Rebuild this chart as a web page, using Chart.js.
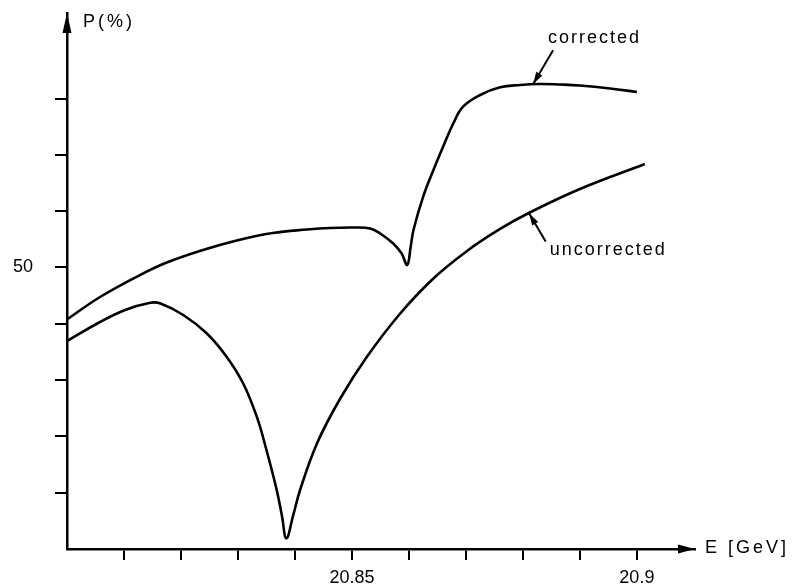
<!DOCTYPE html>
<html><head><meta charset="utf-8">
<script src="https://cdn.jsdelivr.net/npm/chart.js@4/dist/chart.umd.min.js"></script>
<style>html,body{margin:0;padding:0;background:#fff}#wrap{width:793px;height:588px}</style>
</head><body><div id="wrap"><canvas id="c" width="793" height="588"></canvas></div>
<script>
// ---- data ----
const energyCorrected = [20.8000,20.8058,20.8128,20.8175,20.8233,20.8298,20.8361,20.8421,20.8461,20.8505,20.8532,20.8549,20.8572,20.8587,20.8597,20.8603,20.8608,20.8625,20.8643,20.8660,20.8678,20.8695,20.8725,20.8760,20.8795,20.8830,20.8865,20.8900,20.8953,20.9000];
const polCorrected    = [45.38,47.38,49.33,50.44,51.47,52.40,53.06,53.37,53.51,53.55,53.46,53.04,52.15,51.26,50.22,51.82,53.33,56.29,58.66,60.73,62.81,64.28,65.32,66.00,66.21,66.30,66.25,66.16,65.90,65.59];
const energyUncorrected = [20.8000,20.8058,20.8102,20.8146,20.8163,20.8204,20.8245,20.8280,20.8309,20.8333,20.8350,20.8368,20.8377,20.8385,20.8397,20.8409,20.8439,20.8479,20.8526,20.8584,20.8642,20.8702,20.8760,20.8812,20.8900,20.9014];
const polUncorrected    = [43.47,45.16,46.23,46.87,46.82,45.78,44.16,42.08,39.72,36.75,33.79,30.24,28.00,25.95,28.00,30.24,34.41,38.32,42.05,45.87,48.98,51.47,53.42,54.88,56.97,59.19];
const xTickValues = [20.81,20.82,20.83,20.84,20.85,20.86,20.87,20.88,20.89,20.9];
const xTickLabels = ['20.85','20.9'];
const yTickValues = [30,35,40,45,50,55,60,65];
const yTickLabels = ['50'];
const seriesNames = ['corrected','uncorrected'];
const axisTitles = ['P(%)','E [GeV]'];
// annotation anchors in data units: [energy, polarization]
const noteCorrected   = {tip:[20.8818,66.3], tail:[20.8853,69.3], text:[20.8844,69.9]};
const noteUncorrected = {tip:[20.8811,54.8], tail:[20.8840,52.3], text:[20.8847,51.1]};

const FONT = 'Liberation Sans, Arial, sans-serif';

function pairs(xs, ys){ return xs.map((x,i)=>({x:x, y:ys[i]})); }

function arrowHead(ctx, tx, ty, fx, fy, len, half){
  const a = Math.atan2(ty-fy, tx-fx);
  ctx.beginPath();
  ctx.moveTo(tx, ty);
  ctx.lineTo(tx - len*Math.cos(a) + half*Math.sin(a), ty - len*Math.sin(a) - half*Math.cos(a));
  ctx.lineTo(tx - len*Math.cos(a) - half*Math.sin(a), ty - len*Math.sin(a) + half*Math.cos(a));
  ctx.closePath();
  ctx.fill();
}

const decor = {
  id:'decor',
  afterDraw(chart){
    const ctx = chart.ctx, a = chart.chartArea, xs = chart.scales.x, ys = chart.scales.y;
    ctx.save();
    ctx.fillStyle = '#000'; ctx.strokeStyle = '#000';
    // axis arrowheads
    arrowHead(ctx, a.left, a.top, a.left, a.top+30, 20, 4.5);
    arrowHead(ctx, a.right, a.bottom, a.right-30, a.bottom, 17, 4.5);
    // axis titles
    ctx.font = '18px ' + FONT;
    ctx.textBaseline = 'middle';
    ctx.letterSpacing = '3px';
    ctx.fillText(axisTitles[0], a.left + 16, a.top + 9);
    ctx.fillText(axisTitles[1], a.right + 10, a.bottom - 1);
    // curve annotations
    ctx.letterSpacing = '2px';
    ctx.textBaseline = 'alphabetic';
    [[noteCorrected, seriesNames[0]], [noteUncorrected, seriesNames[1]]].forEach(([n, name])=>{
      const tx = xs.getPixelForValue(n.tip[0]), ty = ys.getPixelForValue(n.tip[1]);
      const fx = xs.getPixelForValue(n.tail[0]), fy = ys.getPixelForValue(n.tail[1]);
      ctx.lineWidth = 2;
      ctx.beginPath(); ctx.moveTo(fx, fy); ctx.lineTo(tx, ty); ctx.stroke();
      arrowHead(ctx, tx, ty, fx, fy, 12, 3.5);
      ctx.fillText(name, xs.getPixelForValue(n.text[0]), ys.getPixelForValue(n.text[1]));
    });
    ctx.restore();
  }
};

new Chart(document.getElementById('c'), {
  type:'line',
  data:{datasets:[
    {label:seriesNames[0], data:pairs(energyCorrected, polCorrected), borderColor:'#000', borderWidth:2.6, pointRadius:0, tension:0.4, fill:false},
    {label:seriesNames[1], data:pairs(energyUncorrected, polUncorrected), borderColor:'#000', borderWidth:2.6, pointRadius:0, tension:0.4, fill:false}
  ]},
  options:{
    responsive:false, animation:false, devicePixelRatio:1,
    layout:{padding:{top:13, right:98, left:0, bottom:0}},
    plugins:{legend:{display:false}, tooltip:{enabled:false}},
    scales:{
      x:{type:'linear', min:20.80, max:20.9102,
        afterBuildTicks:s=>{ s.ticks = xTickValues.map(v=>({value:v})); },
        afterFit:s=>{ s.height = 39; s.paddingLeft = 0; s.paddingRight = 0; },
        ticks:{autoSkip:false, maxRotation:0, color:'#000', padding:7, font:{family:FONT, size:18},
          callback:v=>{ const t = xTickLabels.find(l=>Math.abs(parseFloat(l)-v)<1e-7); return t || ''; }},
        grid:{drawOnChartArea:false, tickLength:11, color:'#000', lineWidth:2},
        border:{color:'#000', width:2.5}
      },
      y:{type:'linear', min:25, max:72.6,
        afterBuildTicks:s=>{ s.ticks = yTickValues.map(v=>({value:v})); },
        afterFit:s=>{ s.width = 67; s.paddingTop = 0; s.paddingBottom = 0; },
        ticks:{autoSkip:false, color:'#000', padding:22, font:{family:FONT, size:18},
          callback:v=>{ const t = yTickLabels.find(l=>Math.abs(parseFloat(l)-v)<1e-7); return t || ''; }},
        grid:{drawOnChartArea:false, tickLength:12, color:'#000', lineWidth:2},
        border:{color:'#000', width:2.5}
      }
    }
  },
  plugins:[decor]
});
</script></body></html>
